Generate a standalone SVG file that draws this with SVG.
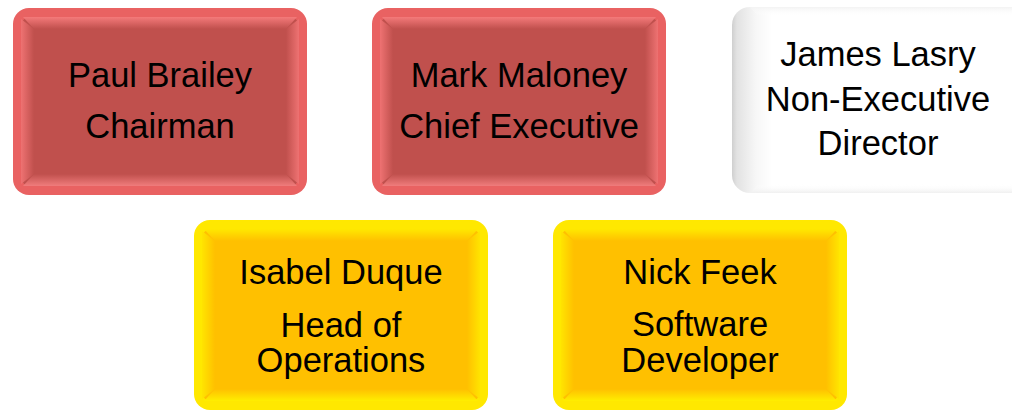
<svg xmlns="http://www.w3.org/2000/svg" width="1012" height="413" viewBox="0 0 1012 413">
<defs>
<style>
.lbl{font-family:"Liberation Sans",Arial,sans-serif;font-size:34.5px;fill:#000;text-anchor:middle}
</style>
<linearGradient id="rTop" x1="0" y1="0" x2="0" y2="1"><stop offset="0" stop-color="#F47A7A"/><stop offset="1" stop-color="#C0504D"/></linearGradient>
<linearGradient id="rBot" x1="0" y1="1" x2="0" y2="0"><stop offset="0" stop-color="#F07C7C"/><stop offset="1" stop-color="#C0504D"/></linearGradient>
<linearGradient id="rLeft" x1="0" y1="0" x2="1" y2="0"><stop offset="0" stop-color="#EE7272"/><stop offset="1" stop-color="#C0504D"/></linearGradient>
<linearGradient id="rRight" x1="1" y1="0" x2="0" y2="0"><stop offset="0" stop-color="#EE7272"/><stop offset="1" stop-color="#C0504D"/></linearGradient>
<linearGradient id="yTop" x1="0" y1="0" x2="0" y2="1"><stop offset="0" stop-color="#FFE800"/><stop offset="1" stop-color="#FFC000"/></linearGradient>
<linearGradient id="yBot" x1="0" y1="1" x2="0" y2="0"><stop offset="0" stop-color="#FFEE00"/><stop offset="1" stop-color="#FFC000"/></linearGradient>
<linearGradient id="yLeft" x1="0" y1="0" x2="1" y2="0"><stop offset="0" stop-color="#FFE400"/><stop offset="1" stop-color="#FFC000"/></linearGradient>
<linearGradient id="yRight" x1="1" y1="0" x2="0" y2="0"><stop offset="0" stop-color="#FFE400"/><stop offset="1" stop-color="#FFC000"/></linearGradient>
<linearGradient id="wFill" gradientUnits="userSpaceOnUse" x1="0" y1="0" x2="40" y2="0"><stop offset="0" stop-color="#CFCFCF"/><stop offset="0.12" stop-color="#E2E2E2"/><stop offset="0.6" stop-color="#F7F7F7"/><stop offset="1" stop-color="#FFFFFF"/></linearGradient>
<linearGradient id="wTop" x1="0" y1="0" x2="0" y2="1"><stop offset="0" stop-color="#F3F3F3"/><stop offset="1" stop-color="#FFFFFF" stop-opacity="0"/></linearGradient>
<linearGradient id="wBot" x1="0" y1="1" x2="0" y2="0"><stop offset="0" stop-color="#F0F0F0"/><stop offset="1" stop-color="#FFFFFF" stop-opacity="0"/></linearGradient>
<g id="bevelR">
<rect x="0" y="0" width="294" height="187" rx="16" fill="#E96262"/>
<rect x="8" y="9" width="278" height="169" rx="9" fill="#C0504D"/>
<polygon points="10,9 284,9 273,21 21,21" fill="url(#rTop)"/>
<polygon points="10,178 284,178 273,166 21,166" fill="url(#rBot)"/>
<polygon points="8,11 21,21 21,166 8,176" fill="url(#rLeft)"/>
<polygon points="286,11 273,21 273,166 286,176" fill="url(#rRight)"/>
</g>
<g id="bevelY">
<rect x="0" y="0" width="294" height="190" rx="16" fill="#FFE800"/>
<rect x="8" y="9" width="278" height="172" rx="9" fill="#FFC000"/>
<polygon points="10,9 284,9 273,21 21,21" fill="url(#yTop)"/>
<polygon points="10,181 284,181 273,169 21,169" fill="url(#yBot)"/>
<polygon points="8,11 21,21 21,169 8,179" fill="url(#yLeft)"/>
<polygon points="286,11 273,21 273,169 286,179" fill="url(#yRight)"/>
</g>
</defs>
<rect width="1012" height="413" fill="#FFFFFF"/>
<g id="connectors"></g>
<g id="node-paul" transform="translate(13,8)">
<use href="#bevelR"/>
<text class="lbl" x="147" y="79">Paul Brailey</text>
<text class="lbl" x="147" y="130">Chairman</text>
</g>
<g id="node-mark" transform="translate(372,8)">
<use href="#bevelR"/>
<text class="lbl" x="147" y="79">Mark Maloney</text>
<text class="lbl" x="147" y="130">Chief Executive</text>
</g>
<g id="node-james" transform="translate(732,7)">
<rect x="0" y="0" width="300" height="186" rx="18" fill="url(#wFill)"/>
<polygon points="18,0 300,0 300,9 26,9" fill="url(#wTop)"/>
<polygon points="18,186 300,186 300,177 26,177" fill="url(#wBot)"/>
<text class="lbl" x="146" y="59">James Lasry</text>
<text class="lbl" x="146" y="104">Non-Executive</text>
<text class="lbl" x="146" y="148">Director</text>
</g>
<g id="node-isabel" transform="translate(194,220)">
<use href="#bevelY"/>
<text class="lbl" x="147" y="64">Isabel Duque</text>
<text class="lbl" x="147" y="117">Head of</text>
<text class="lbl" x="147" y="152">Operations</text>
</g>
<g id="node-nick" transform="translate(553,220)">
<use href="#bevelY"/>
<text class="lbl" x="147" y="64">Nick Feek</text>
<text class="lbl" x="147" y="116">Software</text>
<text class="lbl" x="147" y="152">Developer</text>
</g>
</svg>
